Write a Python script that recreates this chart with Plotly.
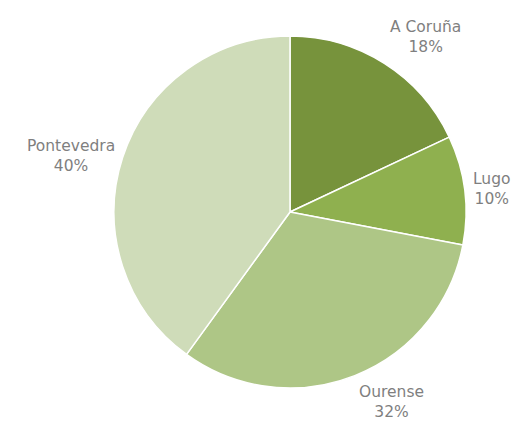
import math
import plotly.graph_objects as go

labels = ["A Coruña", "Lugo", "Ourense", "Pontevedra"]
values = [18, 10, 32, 40]
colors = ["#77933C", "#8FB04F", "#AEC686", "#CFDCB9"]

PAGE_OFF = 8               # default body margin of the html page
W, H = 523 - PAGE_OFF, 431 - 2 * PAGE_OFF   # keep the page free of scrollbars
CX, CY, R = 290 - PAGE_OFF, 212 - PAGE_OFF, 176  # pie centre / radius in figure px
GAP = 6

fig = go.Figure(go.Pie(
    labels=labels,
    values=values,
    sort=False,
    direction="clockwise",
    rotation=0,
    marker=dict(colors=colors, line=dict(color="white", width=1.5)),
    textinfo="none",
    hoverinfo="label+percent",
    domain=dict(x=[(CX - R) / W, (CX + R) / W], y=[1 - (CY + R) / H, 1 - (CY - R) / H]),
    showlegend=False,
))

total = sum(values)
cum = 0
annotations = []
for lab, v in zip(labels, values):
    mid = (cum + v / 2) / total * 2 * math.pi
    cum += v
    s, c = math.sin(mid), math.cos(mid)
    px = CX + (R + GAP) * s
    py = CY - (R + GAP) * c
    xa = "center" if abs(s) < 0.3 else ("left" if s > 0 else "right")
    ya = "middle" if abs(c) < 0.35 else ("bottom" if c > 0 else "top")
    annotations.append(dict(
        x=px / W, y=1 - py / H, xref="paper", yref="paper",
        text=f"{lab}<br>{round(v / total * 100)}%",
        showarrow=False, xanchor=xa, yanchor=ya, align="center",
        font=dict(family="'DejaVu Sans', sans-serif", size=15.5, color="#7F7F7F"),
    ))

fig.update_layout(
    width=W,
    height=H,
    margin=dict(l=0, r=0, t=0, b=0),
    paper_bgcolor="white",
    plot_bgcolor="white",
    annotations=annotations,
)

fig.write_html("out.html")
